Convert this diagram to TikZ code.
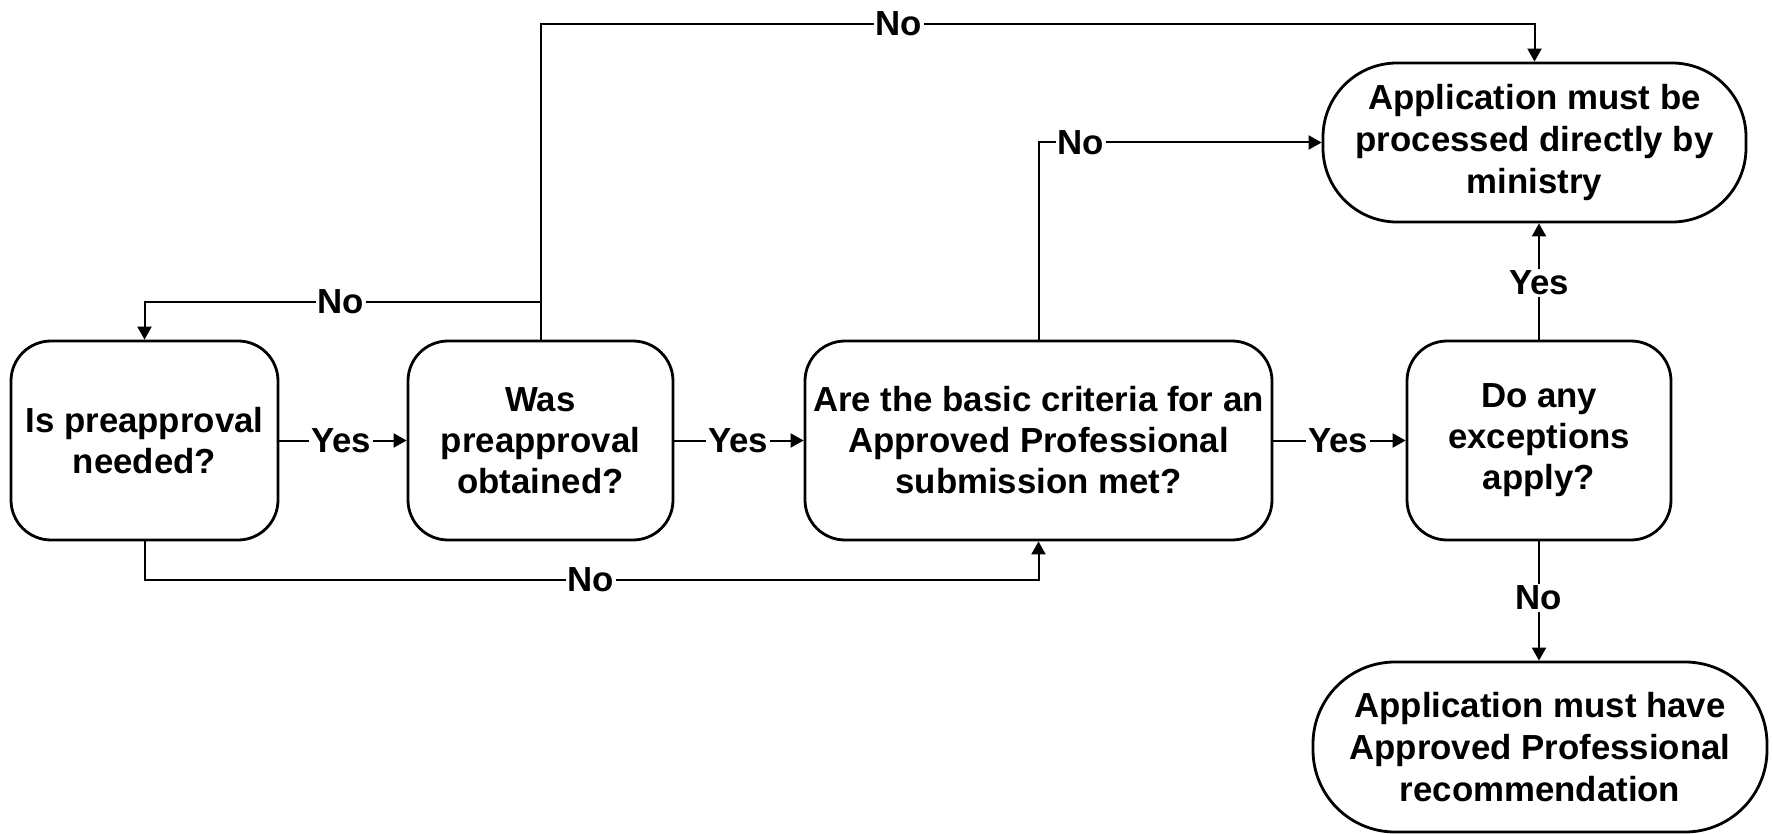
\documentclass[tikz,border=0pt]{standalone}
\usepackage{fontspec}
\setmainfont{Liberation Sans}
\usetikzlibrary{arrows.meta}
\tikzset{
  qbox/.style={draw, line width=1.4pt, rounded corners=20pt, inner sep=0pt,
    minimum height=99.5pt, align=center, font=\fontsize{17.4}{20.5}\selectfont\bfseries},
  term/.style={draw, line width=1.4pt, inner sep=0pt, align=center,
    font=\fontsize{17.4}{21}\selectfont\bfseries},
  conn/.style={line width=1pt},
  arr/.style={conn, -{Triangle[length=6.5pt,width=7pt]}},
  lbl/.style={fill=white, inner sep=1pt, font=\fontsize{17.4}{20}\selectfont\bfseries}
}
\begin{document}
\begin{tikzpicture}[x=0.5pt,y=-0.5pt]
\useasboundingbox (0,0) rectangle (1773,834);
% decision boxes
\node[qbox, minimum width=133.5pt] (q1) at (144.5,440.5) {Is preapproval\\needed?};
\node[qbox, minimum width=132.5pt] (q2) at (540.5,440.5) {Was\\preapproval\\obtained?};
\node[qbox, minimum width=233.5pt] (q3) at (1038.5,440.5) {Are the basic criteria for an\\Approved Professional\\submission met?};
\node[qbox, minimum width=132pt] (q4) at (1539,440.5) {Do any\\exceptions\\apply?};
% terminals
\node[term, rounded corners=37pt, minimum width=211.5pt, minimum height=79.5pt] (t1) at (1534.5,142.5) {Application must be\\processed directly by\\ministry};
\node[term, rounded corners=41pt, minimum width=227pt, minimum height=85pt] (t2) at (1540,747) {Application must have\\Approved Professional\\recommendation};
% junction coordinates
\coordinate (jtop) at (540.5,24);
\coordinate (jmid) at (540.5,302);
\coordinate (jbot) at (144.5,580);
% connectors
\draw[arr] (q1.east) -- (q2.west);
\draw[arr] (q2.east) -- (q3.west);
\draw[arr] (q3.east) -- (q4.west);
\draw[arr] (q2.north) -- (jtop) -| (t1.north);
\draw[arr] (jmid) -| (q1.north);
\draw[arr] (q1.south) -- (jbot) -| (q3.south);
\draw[arr] (q3.north) |- (t1.west);
\draw[arr] (q4.north) -- (q4.north |- t1.south);
\draw[arr] (q4.south) -- (q4.south |- t2.north);
% labels
\node[lbl] (l1) at (341,440.5) {Yes};
\node[lbl] (l2) at (738,440.5) {Yes};
\node[lbl] (l3) at (1338,440.5) {Yes};
\node[lbl] (l4) at (899,24) {No};
\node[lbl] (l5) at (341,302) {No};
\node[lbl] (l6) at (591,580) {No};
\node[lbl] (l7) at (1081,142.5) {No};
\node[lbl] (l8) at (1539,283) {Yes};
\node[lbl] (l9) at (1539,598) {No};
\end{tikzpicture}
\end{document}
